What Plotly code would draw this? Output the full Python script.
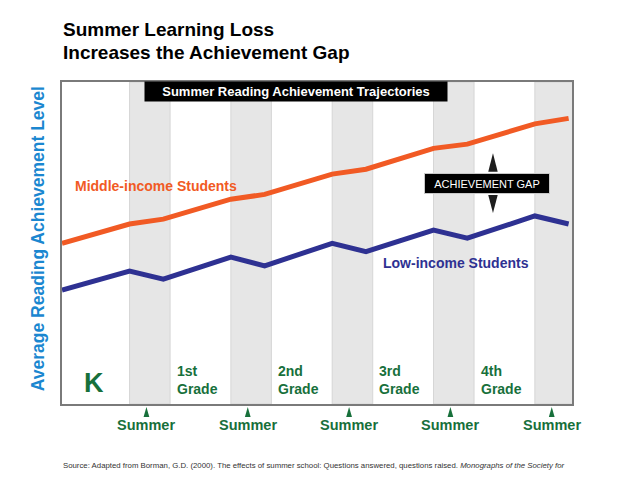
import plotly.graph_objects as go

# time along the school years: school year = 2 units, summer = 1 unit
x_time = [0, 2, 3, 5, 6, 8, 9, 11, 12, 14, 15]
middle_income = [49.9, 55.9, 57.4, 63.6, 65.1, 71.4, 72.9, 79.4, 80.7, 87.0, 88.7]
low_income = [35.4, 41.3, 38.8, 45.6, 42.9, 49.9, 47.3, 54.0, 51.5, 58.4, 55.9]

summer_start = [2, 5, 8, 11, 14]
summer_end = [3, 6, 9, 12, 15]
grade_labels = ["K", "1st<br>Grade", "2nd<br>Grade", "3rd<br>Grade", "4th<br>Grade"]
grade_mid = [1, 4, 7, 10, 13]

GREEN = "#17703b"
ORANGE = "#f15a24"
BLUE = "#2e3192"
SANS = "Liberation Sans, Arial, sans-serif"

fig = go.Figure()

# summer bands
for s, e in zip(summer_start, summer_end):
    fig.add_vrect(x0=s, x1=e + 0.2, fillcolor="#e6e6e6", opacity=1,
                  line=dict(color="#d6d6d6", width=1), layer="below")

fig.add_trace(go.Scatter(x=x_time, y=middle_income, mode="lines",
                         line=dict(color=ORANGE, width=5), showlegend=False))
fig.add_trace(go.Scatter(x=x_time, y=low_income, mode="lines",
                         line=dict(color=BLUE, width=5), showlegend=False))


def tri(xc, tip, base, hw):
    return f"M {xc - hw},{base} L {xc},{tip} L {xc + hw},{base} Z"


# "Summer" labels under the box, each with a small pointer
summer_mid = [(s + e) / 2 for s, e in zip(summer_start, summer_end)]
for xm in summer_mid:
    fig.add_shape(type="path", xref="x", yref="paper",
                  path=tri(xm, -0.0093, -0.0404, 0.085),
                  fillcolor=GREEN, line=dict(width=0))
    fig.add_annotation(x=xm, y=-0.064, xref="x", yref="paper", text="<b>Summer</b>",
                       showarrow=False, yanchor="middle",
                       font=dict(family=SANS, size=14.5, color=GREEN))

for lab, xm in zip(grade_labels, grade_mid):
    if lab == "K":
        fig.add_annotation(x=xm - 0.05, y=6.6, text="<b>K</b>", showarrow=False,
                           font=dict(family=SANS, size=27, color=GREEN))
    else:
        fig.add_annotation(x=xm, y=7.6, text="<b>" + lab + "</b>", showarrow=False,
                           align="left", font=dict(family=SANS, size=14, color=GREEN))

# series labels
fig.add_annotation(x=0.32, y=67.7, xanchor="left", text="<b>Middle-income Students</b>",
                   showarrow=False, font=dict(family=SANS, size=14, color=ORANGE))
fig.add_annotation(x=9.45, y=43.8, xanchor="left", text="<b>Low-income Students</b>",
                   showarrow=False, font=dict(family=SANS, size=14, color=BLUE))

# banner
fig.add_annotation(x=6.93, y=96.9, text="<b>Summer Reading Achievement Trajectories</b>",
                   showarrow=False, bgcolor="black", width=300, height=17, borderpad=1,
                   font=dict(family=SANS, size=13, color="white"))

# achievement gap marker
fig.add_annotation(x=12.585, y=68.6, text="ACHIEVEMENT GAP", showarrow=False,
                   bgcolor="black", bordercolor="#c8c8c8", borderwidth=1,
                   width=122, height=17, borderpad=1,
                   font=dict(family=SANS, size=11, color="white"))
fig.add_shape(type="path", path=tri(12.76, 77.9, 72.1, 0.14),
              fillcolor="#1e1e1e", line=dict(width=0))
fig.add_shape(type="path", path=tri(12.76, 59.3, 64.9, 0.14),
              fillcolor="#1e1e1e", line=dict(width=0))

# titles and source
fig.add_annotation(x=-0.002, y=1.1615, xref="paper", yref="paper", xanchor="left",
                   yanchor="middle", showarrow=False, text="<b>Summer Learning Loss</b>",
                   font=dict(family=SANS, size=19, color="black"))
fig.add_annotation(x=-0.002, y=1.093, xref="paper", yref="paper", xanchor="left",
                   yanchor="middle", showarrow=False, text="<b>Increases the Achievement Gap</b>",
                   font=dict(family=SANS, size=19, color="black"))
fig.add_annotation(x=-0.047, y=0.512, xref="paper", yref="paper", textangle=-90,
                   xanchor="center", yanchor="middle",
                   showarrow=False, text="<b>Average Reading Achievement Level</b>",
                   font=dict(family=SANS, size=17.5, color="#1b87d0"))
fig.add_annotation(x=-0.002, y=-0.172, xref="paper", yref="paper", xanchor="left",
                   yanchor="top", align="left", showarrow=False,
                   text=("Source: Adapted from Borman, G.D. (2000). The effects of summer school: "
                         "Questions answered, questions raised. <i>Monographs of the Society for<br>"
                         "Research in Child Development, 65</i> (1, Serial N. 260)."),
                   font=dict(family=SANS, size=7.8, color="#333333"))

fig.update_xaxes(range=[0, 15.1], showgrid=False, zeroline=False, showticklabels=False,
                 ticks="", showline=True, mirror=True, linecolor="#7a7a7a", linewidth=2)
fig.update_yaxes(range=[0, 100], showgrid=False, zeroline=False, showticklabels=False,
                 ticks="", showline=True, mirror=True, linecolor="#7a7a7a", linewidth=2)

# the page puts the figure 8px in from the corner, so the figure is sized to fit
fig.update_layout(width=608, height=464, autosize=False,
                  margin=dict(l=54, r=44, t=74, b=68),
                  plot_bgcolor="white", paper_bgcolor="white", showlegend=False)

fig.write_html("out.html")
